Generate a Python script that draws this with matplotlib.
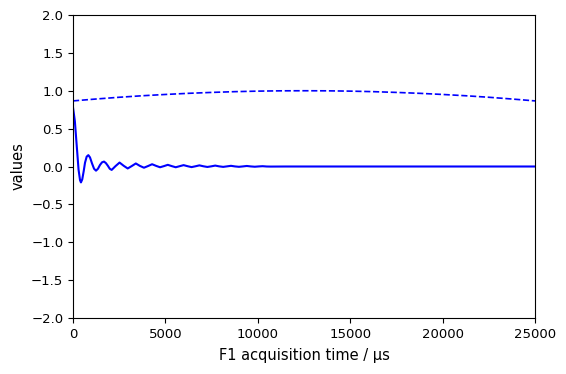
import matplotlib
matplotlib.use("Agg")
import matplotlib.pyplot as plt

# Solid trace: acquisition time (µs) and values
fid_time = [0, 100, 200, 300, 380, 430, 500, 580, 650, 740, 830, 920, 1030,
            1140, 1245, 1350, 1460, 1570, 1677, 1780, 1885, 1990, 2093,
            2300, 2520, 2740, 2960, 3180, 3400, 3620, 3840, 4060, 4280,
            4500, 4710, 4920, 5130, 5345, 5560, 5770, 5985, 6200, 6415,
            6630, 6840, 7055, 7270, 7480, 7695, 7910, 8125, 8340, 8550,
            8765, 8980, 9190, 9405, 9620, 9835, 10050, 10260, 10480, 10700,
            11500, 25000]
fid_values = [0.78, 0.60, 0.28, -0.04, -0.18, -0.21, -0.17, -0.06, 0.05, 0.13,
              0.15, 0.12, 0.04, -0.03, -0.055, -0.03, 0.02, 0.055, 0.065, 0.045,
              0.01, -0.03, -0.045, 0.005, 0.052, 0.010, -0.026, 0.006, 0.040,
              0.008, -0.016, 0.006, 0.030, 0.008, -0.010, 0.005, 0.022, 0.005,
              -0.010, 0.004, 0.018, 0.004, -0.008, 0.003, 0.015, 0.003, -0.006,
              0.002, 0.012, 0.002, -0.005, 0.002, 0.009, 0.001, -0.004, 0.001,
              0.007, 0.001, -0.003, 0.001, 0.004, 0.0, -0.001, 0.0, 0.0]

# Dashed trace: window function
win_time = [0, 1250, 2500, 3750, 5000, 6250, 7500, 8750, 10000, 11250, 12500,
            13750, 15000, 16250, 17500, 18750, 20000, 21250, 22500, 23750, 25000]
win_values = [0.866, 0.891, 0.914, 0.934, 0.951, 0.966, 0.978, 0.988, 0.995,
              0.999, 1.0, 0.999, 0.995, 0.988, 0.978, 0.966, 0.951, 0.934,
              0.914, 0.891, 0.866]

x_ticks = [0, 5000, 10000, 15000, 20000, 25000]
y_ticks = [-2.0, -1.5, -1.0, -0.5, 0.0, 0.5, 1.0, 1.5, 2.0]

W, H = 566, 374
fig = plt.figure(figsize=(W / 100, H / 100), dpi=100)
ax = fig.add_axes([73 / W, (H - 318) / H, (535 - 73) / W, (318 - 15) / H])

ax.plot(fid_time, fid_values, color="#0000ff", lw=1.5)
ax.plot(win_time, win_values, color="#0000ff", lw=1.2, ls="--")

ax.set_xlim(0, 25000)
ax.set_ylim(-2, 2)
ax.set_xticks(x_ticks)
ax.set_yticks(y_ticks)
ax.set_yticklabels([f"{v:.1f}".replace("-", "\u2212") for v in y_ticks])
ax.tick_params(labelsize=9.5)
ax.set_xlabel("F1 acquisition time / µs", fontsize=10.5, labelpad=5.5)
ax.set_ylabel("values", fontsize=10.5)

fig.savefig("out.png", dpi=100)
